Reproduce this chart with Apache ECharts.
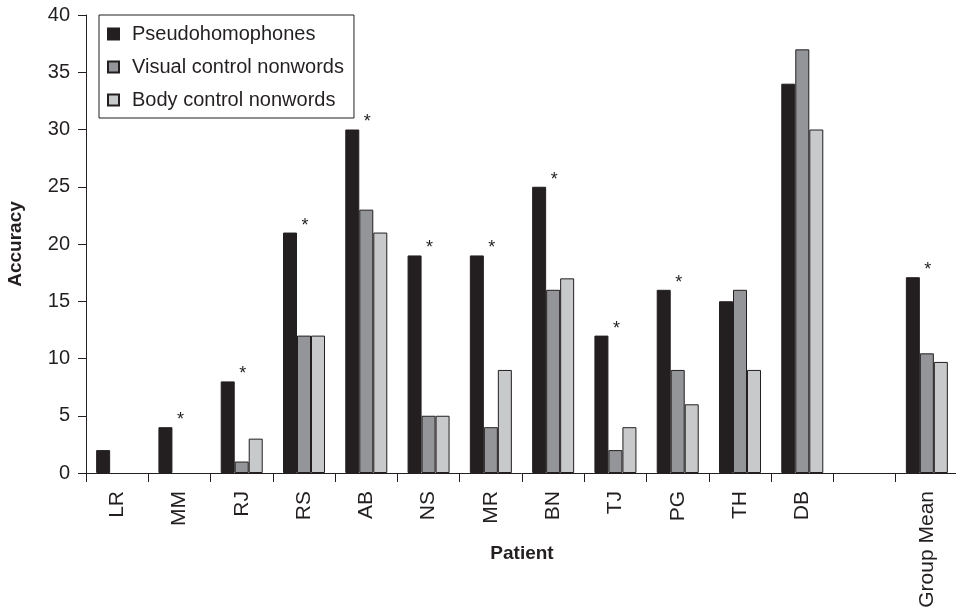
<!DOCTYPE html>
<html>
<head>
<meta charset="utf-8">
<script src="https://cdn.jsdelivr.net/npm/echarts@6/dist/echarts.min.js"></script>
<style>
html,body{margin:0;padding:0;background:#fff;}
#chart{width:956px;height:609px;}
</style>
</head>
<body>
<div id="chart"></div>
<script>
const categories = ['LR','MM','RJ','RS','AB','NS','MR','BN','TJ','PG','TH','DB','','Group Mean'];
const pseudohomophones = [2,4,8,21,30,19,19,25,12,16,15,34,null,17.1];
const visualControl = [0,0,1,12,23,5,4,16,2,9,16,37,null,10.45];
const bodyControl = [0,0,3,12,21,5,9,17,4,6,9,30,null,9.7];
const significant = [false,true,true,true,true,true,true,true,true,true,false,false,false,true];
const seriesNames = ['Pseudohomophones','Visual control nonwords','Body control nonwords'];
const yTicks = {min:0, max:40, interval:5};

const FONT = 'Liberation Sans, Arial, sans-serif';
const INK = '#231f20';

const chart = echarts.init(document.getElementById('chart'), null, {renderer:'canvas'});

function toItems(arr, withSig){
  return arr.map((v,i) => {
    const item = {value: v};
    if (v === 0) item.itemStyle = {borderWidth: 0};
    if (withSig) {
      item.label = significant[i] ? {
        show: true, formatter: '*', position: 'top', distance: 0,
        offset: [15, 2], fontSize: 18, color: INK, fontFamily: FONT
      } : {show:false};
    }
    return item;
  });
}

function barSeries(name, data, color){
  return {
    name, type:'bar', data,
    barWidth: 14, barGap: '0%',
    itemStyle:{color, borderColor: INK, borderWidth: 1},
    emphasis:{disabled:true},
    animation:false
  };
}

chart.setOption({
  animation:false,
  textStyle:{fontFamily:FONT},
  grid:{left:86, top:15, width:872, height:458, containLabel:false, outerBoundsMode:'none'},
  legend:{
    orient:'vertical', left:99, top:15,
    data: seriesNames,
    icon:'rect', itemWidth:11, itemHeight:11, itemGap:13,
    borderColor: INK, borderWidth:1,
    padding:[9,10,8,8],
    textStyle:{fontSize:20, color:INK, fontFamily:FONT, padding:[0,0,0,8]},
    selectedMode:false
  },
  xAxis:{
    type:'category', data:categories,
    name:'Patient', nameLocation:'middle', nameGap:71, nameMoveOverlap:false,
    nameTextStyle:{fontSize:19, fontWeight:'bold', color:INK, fontFamily:FONT},
    axisLine:{lineStyle:{color:INK, width:1}},
    axisTick:{show:true, length:9, lineStyle:{color:INK}},
    axisLabel:{rotate:90, fontSize:21, color:INK, margin:18, interval:0, fontFamily:FONT}
  },
  yAxis:{
    type:'value', min:yTicks.min, max:yTicks.max, interval:yTicks.interval,
    name:'Accuracy', nameLocation:'middle', nameGap:61, nameMoveOverlap:false,
    nameTextStyle:{fontSize:19, fontWeight:'bold', color:INK, fontFamily:FONT},
    axisLine:{show:true, lineStyle:{color:INK, width:1}},
    axisTick:{show:true, length:8, lineStyle:{color:INK}},
    axisLabel:{fontSize:20, color:INK, margin:16, fontFamily:FONT},
    splitLine:{show:false}
  },
  series:[
    barSeries(seriesNames[0], toItems(pseudohomophones, true), '#231f20'),
    barSeries(seriesNames[1], toItems(visualControl, false), '#939598'),
    barSeries(seriesNames[2], toItems(bodyControl, false), '#c8c9cb')
  ]
});
</script>
</body>
</html>
